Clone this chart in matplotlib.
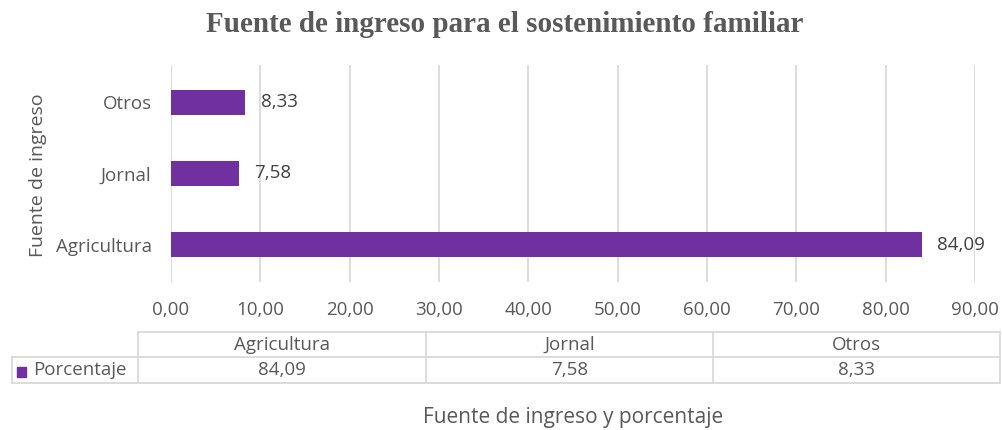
import matplotlib.pyplot as plt
from matplotlib.lines import Line2D
from matplotlib.patches import Rectangle

categories = ['Agricultura', 'Jornal', 'Otros']
porcentaje = [84.09, 7.58, 8.33]
xticks = [0, 10, 20, 30, 40, 50, 60, 70, 80, 90]
series_name = 'Porcentaje'

bar_color = '#7030A0'
text_color = '#595959'
grid_color = '#D9D9D9'

plt.rcParams['font.family'] = ['Open Sans', 'DejaVu Sans']

def fmt(v):
    return f'{v:.2f}'.replace('.', ',')

W, H = 1003, 430
fig = plt.figure(figsize=(W / 100, H / 100), dpi=100)

# plot area in pixel terms
x0, x1, y_top, y_bot = 171, 975, 65, 282
ax = fig.add_axes([x0 / W, 1 - y_bot / H, (x1 - x0) / W, (y_bot - y_top) / H])

ypos = range(len(categories))
ax.barh(ypos, porcentaje, height=0.35, color=bar_color, zorder=3)
for y, v in zip(ypos, porcentaje):
    ax.text(v + 1.7, y, fmt(v), va='center', ha='left', fontsize=13.5, color='#404040')

ax.set_xlim(0, 90)
ax.set_ylim(-0.52, 2.52)
ax.set_xticks(xticks)
ax.set_xticklabels([fmt(t) for t in xticks], fontsize=13.5, color=text_color)
ax.set_yticks(list(ypos))
ax.set_yticklabels(categories, fontsize=13.5, color=text_color)
ax.tick_params(length=0, axis='x', pad=14)
ax.tick_params(length=0, axis='y', pad=14)
ax.grid(axis='x', color=grid_color, linewidth=1.3, zorder=0)
for s in ax.spines.values():
    s.set_visible(False)
ax.set_ylabel('Fuente de ingreso', fontsize=14, color=text_color)
ax.yaxis.set_label_coords((47 - x0) / (x1 - x0), 0.49)

fig.text(505 / W, 1 - 24 / H, 'Fuente de ingreso para el sostenimiento familiar',
         ha='center', va='center', fontsize=21, fontweight='bold',
         family='Liberation Serif', color=text_color)

# data table below the axis
tl, tc, tr = 12, 138, 1000
ty0, ty1, ty2 = 332, 357, 383
col_edges = [tc, 426, 713, tr]

def seg(xa, ya, xb, yb):
    fig.add_artist(Line2D([xa / W, xb / W], [1 - ya / H, 1 - yb / H],
                          color=grid_color, linewidth=1.3))

seg(tc, ty0, tr, ty0)
seg(tl, ty1, tr, ty1)
seg(tl, ty2, tr, ty2)
seg(tl, ty1, tl, ty2)
for xe in col_edges:
    seg(xe, ty0, xe, ty2)

for i, cat in enumerate(categories):
    xc = (col_edges[i] + col_edges[i + 1]) / 2
    fig.text(xc / W, 1 - (ty0 + ty1) / 2 / H, cat, ha='center', va='center',
             fontsize=13.5, color=text_color)
    fig.text(xc / W, 1 - (ty1 + ty2) / 2 / H, fmt(porcentaje[i]), ha='center',
             va='center', fontsize=13.5, color=text_color)

fig.add_artist(Rectangle((17 / W, 1 - 377 / H), 9 / W, 10 / H,
                         color=bar_color, transform=fig.transFigure))
fig.text(33 / W, 1 - (ty1 + ty2) / 2 / H, series_name, ha='left', va='center',
         fontsize=13.5, color=text_color)

fig.text(573 / W, 1 - 418 / H, 'Fuente de ingreso y porcentaje', ha='center',
         va='center', fontsize=15, color=text_color)

fig.savefig('out.png', dpi=100, facecolor='white')
